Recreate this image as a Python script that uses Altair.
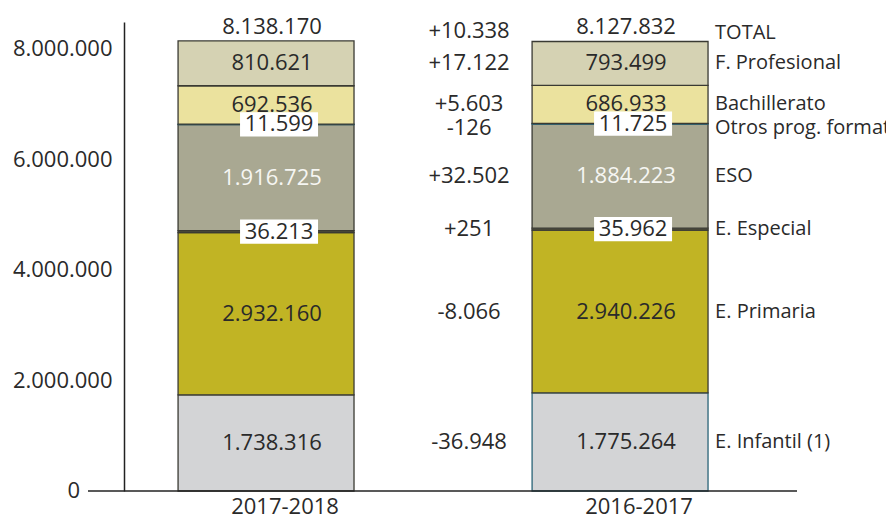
import altair as alt
import pandas as pd

periods = ["2017-2018", "2016-2017"]
categories = ["E. Infantil (1)", "E. Primaria", "E. Especial", "ESO",
              "Otros prog. formativos", "Bachillerato", "F. Profesional"]
values_2017_2018 = [1738316, 2932160, 36213, 1916725, 11599, 692536, 810621]
values_2016_2017 = [1775264, 2940226, 35962, 1884223, 11725, 686933, 793499]
colors = ["#d3d4d6", "#c1b424", "#55523c", "#a9a892", "#1f6b8e", "#ebe29e", "#d5d2b3"]
small_cats = ["E. Especial", "Otros prog. formativos"]
y_ticks = [2000000, 4000000, 6000000, 8000000]

FONT = "Open Sans"
FS_NUM = 22
FS_TXT = 20
TXT = "#2a2a2a"


def fmt(n, sign=False):
    s = f"{abs(n):,}".replace(",", ".")
    if sign:
        s = ("+" if n >= 0 else "-") + s
    elif n < 0:
        s = "-" + s
    return s


rows = []
for period, vals in zip(periods, [values_2017_2018, values_2016_2017]):
    acc = 0
    for cat, v in zip(categories, vals):
        rows.append(dict(period=period, category=cat, y0=acc, y1=acc + v,
                         mid=acc + v / 2, label=fmt(v),
                         small=cat in small_cats))
        acc += v
seg = pd.DataFrame(rows)

tot_vals = [sum(values_2017_2018), sum(values_2016_2017)]
totals = pd.DataFrame({"period": periods, "total": tot_vals,
                       "label": [fmt(t) for t in tot_vals]})

side = seg[seg.period == periods[1]].copy().reset_index(drop=True)
side["diff"] = [fmt(a - b, True) for a, b in zip(values_2017_2018, values_2016_2017)]
side_total = pd.DataFrame({"period": [periods[1]], "total": [tot_vals[1]],
                           "diff": [fmt(tot_vals[0] - tot_vals[1], True)],
                           "name": ["TOTAL"]})

x_enc = alt.X("period:N", sort=periods,
              scale=alt.Scale(domain=periods, paddingInner=0.503,
                              paddingOuter=0.202, align=0.378),
              axis=alt.Axis(title=None, domain=False, ticks=False,
                            labelPadding=5, labelOffset=19, labelAngle=0,
                            labelFont=FONT, labelFontSize=FS_NUM, labelColor=TXT))
y_scale = alt.Scale(domain=[0, 8480000], nice=False, zero=True)

base = alt.Chart(seg)

teal_stroke = (alt.datum.category == "Otros prog. formativos") | (
    (alt.datum.category == "E. Infantil (1)") & (alt.datum.period == "2016-2017"))

bars = base.mark_bar(strokeWidth=1.3).encode(
    x=x_enc,
    y=alt.Y("y0:Q", scale=y_scale,
            axis=alt.Axis(title=None, grid=False, ticks=False, domainColor="#222",
                          domainWidth=1.5, labelPadding=12, labelFont=FONT,
                          labelFontSize=FS_NUM, labelColor=TXT, values=y_ticks,
                          labelExpr="replace(replace(format(datum.value, ','), ',', '.'), ',', '.')")),
    y2="y1:Q",
    color=alt.Color("category:N", scale=alt.Scale(domain=categories, range=colors), legend=None),
    stroke=alt.condition(teal_stroke, alt.value("#2a6478"), alt.value("#3a3a33")),
)

zero_label = alt.Chart(pd.DataFrame({"zero": [0]})).mark_text(
    font=FONT, fontSize=FS_NUM, align="right", baseline="middle", color=TXT
).encode(y=alt.Y("zero:Q", scale=y_scale), x=alt.value(-44), text=alt.Text("zero:Q", format="d"))

boxes = base.transform_filter(alt.datum.small).mark_point(
    shape="M-1,-0.31L1,-0.31L1,0.31L-1,0.31Z", size=78 * 78, filled=True,
    color="white", opacity=1, strokeWidth=0, xOffset=13
).encode(x="period:N", y=alt.Y("mid:Q", scale=y_scale))

vals_big = base.transform_filter(~alt.datum.small).mark_text(
    font=FONT, fontSize=FS_NUM, dx=6, baseline="middle"
).encode(
    x="period:N", y=alt.Y("mid:Q", scale=y_scale), text="label:N",
    color=alt.condition(alt.datum.category == "ESO", alt.value("#f6f6f2"), alt.value(TXT)),
)

vals_small = base.transform_filter(alt.datum.small).mark_text(
    font=FONT, fontSize=FS_NUM, dx=13, baseline="middle", color=TXT
).encode(x="period:N", y=alt.Y("mid:Q", scale=y_scale), text="label:N")

tot_text = alt.Chart(totals).mark_text(
    font=FONT, fontSize=FS_NUM, dx=6, dy=-14, baseline="middle", color=TXT
).encode(x="period:N", y=alt.Y("total:Q", scale=y_scale), text="label:N")

is_otros = alt.datum.category == "Otros prog. formativos"

diff_text = alt.Chart(side).transform_filter(~is_otros).mark_text(
    font=FONT, fontSize=FS_NUM, dx=-151, baseline="middle", color=TXT
).encode(x="period:N", y=alt.Y("mid:Q", scale=y_scale), text="diff:N")

diff_otros = alt.Chart(side).transform_filter(is_otros).mark_text(
    font=FONT, fontSize=FS_NUM, dx=-151, dy=4, baseline="middle", color=TXT
).encode(x="period:N", y=alt.Y("mid:Q", scale=y_scale), text="diff:N")

cat_text = alt.Chart(side).transform_filter(~is_otros).mark_text(
    font=FONT, fontSize=FS_TXT, dx=95, align="left", baseline="middle", color=TXT
).encode(x="period:N", y=alt.Y("mid:Q", scale=y_scale), text="category:N")

cat_otros = alt.Chart(side).transform_filter(is_otros).mark_text(
    font=FONT, fontSize=FS_TXT, dx=95, dy=4, align="left", baseline="middle", color=TXT
).encode(x="period:N", y=alt.Y("mid:Q", scale=y_scale), text="category:N")

tot_diff = alt.Chart(side_total).mark_text(
    font=FONT, fontSize=FS_NUM, dx=-151, dy=-10, baseline="middle", color=TXT
).encode(x="period:N", y=alt.Y("total:Q", scale=y_scale), text="diff:N")

tot_name = alt.Chart(side_total).mark_text(
    font=FONT, fontSize=FS_TXT, dx=95, dy=-8, align="left", baseline="middle", color=TXT
).encode(x="period:N", y=alt.Y("total:Q", scale=y_scale), text="name:N")

baseline = alt.Chart(pd.DataFrame({"zero": [0]})).mark_rule(
    color="#222", strokeWidth=1.5
).encode(y=alt.Y("zero:Q", scale=y_scale), x=alt.value(-36), x2=alt.value(673))

chart = alt.layer(
    bars, boxes, vals_big, vals_small, tot_text, diff_text, diff_otros,
    cat_text, cat_otros, tot_diff, tot_name, baseline, zero_label
).properties(
    width=673, height=469,
    padding={"left": 124, "top": 22, "right": 89, "bottom": 26},
    autosize=alt.AutoSizeParams(type="none"),
).configure_view(stroke=None)

chart.save("out.html", embed_options={"renderer": "svg", "actions": False})
